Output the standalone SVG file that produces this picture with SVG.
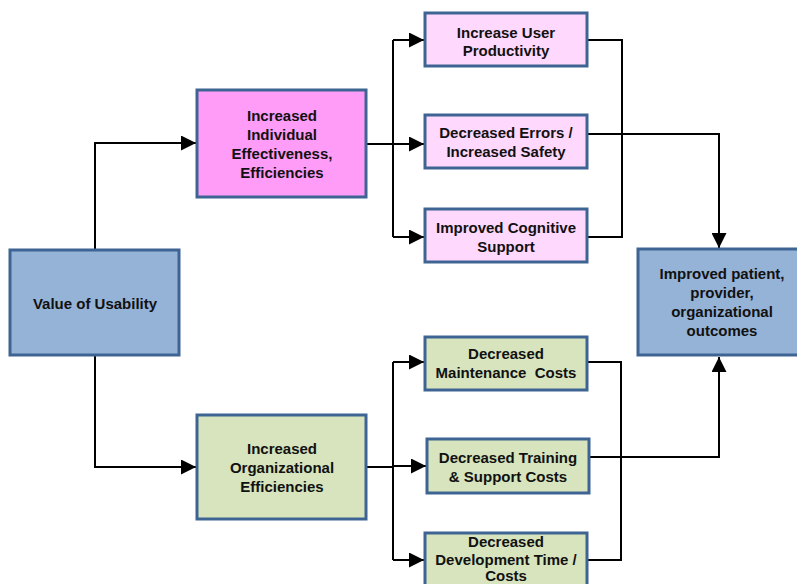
<svg xmlns="http://www.w3.org/2000/svg" width="797" height="584" viewBox="0 0 797 584">
<defs>
<marker id="ah" viewBox="0 0 10 10" refX="10" refY="5" markerWidth="15" markerHeight="15" markerUnits="userSpaceOnUse" orient="auto">
<path d="M0,0 L10,5 L0,10 z" fill="#000"/>
</marker>
<style>
.box{stroke:#3e6494;stroke-width:3}
.blue{fill:#95b3d7}
.pink{fill:#ff9cf8}
.lpink{fill:#ffd8fd}
.green{fill:#d7e4bd}
text{font-family:"Liberation Sans",Arial,sans-serif;font-weight:bold;font-size:15px;fill:#111;text-anchor:middle;dominant-baseline:central}
.c{fill:none;stroke:#000;stroke-width:2}
</style>
</defs>
<rect width="797" height="584" fill="#fff"/>
<g id="connectors">
<path class="c" d="M95,250 V143 H196" marker-end="url(#ah)"/>
<path class="c" d="M95,355 V467 H196" marker-end="url(#ah)"/>
<path class="c" d="M366,144 H393"/>
<path class="c" d="M393,40 V237"/>
<path class="c" d="M393,40 H424" marker-end="url(#ah)"/>
<path class="c" d="M393,144 H424" marker-end="url(#ah)"/>
<path class="c" d="M393,237 H424" marker-end="url(#ah)"/>
<path class="c" d="M366,467 H393"/>
<path class="c" d="M393,362 V560"/>
<path class="c" d="M393,362 H424" marker-end="url(#ah)"/>
<path class="c" d="M393,466 H426" marker-end="url(#ah)"/>
<path class="c" d="M393,560 H424" marker-end="url(#ah)"/>
<path class="c" d="M587,40 H622 V237 H587"/>
<path class="c" d="M587,134 H719 V248" marker-end="url(#ah)"/>
<path class="c" d="M587,362 H621 V560 H587"/>
<path class="c" d="M589,457 H719 V357" marker-end="url(#ah)"/>
</g>
<g id="value">
<rect class="box blue" x="10" y="250" width="169" height="105"/>
<text x="95" y="303">Value of Usability</text>
</g>
<g id="individual">
<rect class="box pink" x="197" y="90" width="169" height="107"/>
<text x="282" y="115">Increased</text>
<text x="282" y="134">Individual</text>
<text x="282" y="153">Effectiveness,</text>
<text x="282" y="172">Efficiencies</text>
</g>
<g id="organizational">
<rect class="box green" x="197" y="415" width="169" height="104"/>
<text x="282" y="448">Increased</text>
<text x="282" y="467">Organizational</text>
<text x="282" y="486">Efficiencies</text>
</g>
<g id="productivity">
<rect class="box lpink" x="425" y="13" width="162" height="53"/>
<text x="506" y="32">Increase User</text>
<text x="506" y="50">Productivity</text>
</g>
<g id="errors">
<rect class="box lpink" x="425" y="115" width="162" height="53"/>
<text x="506" y="132">Decreased Errors /</text>
<text x="506" y="151">Increased Safety</text>
</g>
<g id="cognitive">
<rect class="box lpink" x="425" y="209" width="162" height="53"/>
<text x="506" y="227">Improved Cognitive</text>
<text x="506" y="246">Support</text>
</g>
<g id="maintenance">
<rect class="box green" x="425" y="337" width="162" height="53"/>
<text x="506" y="353">Decreased</text>
<text x="506" y="372">Maintenance&#160; Costs</text>
</g>
<g id="training">
<rect class="box green" x="427" y="439" width="162" height="54"/>
<text x="508" y="457">Decreased Training</text>
<text x="508" y="476">&amp; Support Costs</text>
</g>
<g id="development">
<rect class="box green" x="425" y="533" width="162" height="60"/>
<text x="506" y="541">Decreased</text>
<text x="506" y="559">Development Time /</text>
<text x="506" y="575">Costs</text>
</g>
<g id="outcomes">
<rect class="box blue" x="638" y="249" width="162" height="106"/>
<text x="722" y="273">Improved patient,</text>
<text x="722" y="292">provider,</text>
<text x="722" y="311">organizational</text>
<text x="722" y="330">outcomes</text>
</g>
</svg>
